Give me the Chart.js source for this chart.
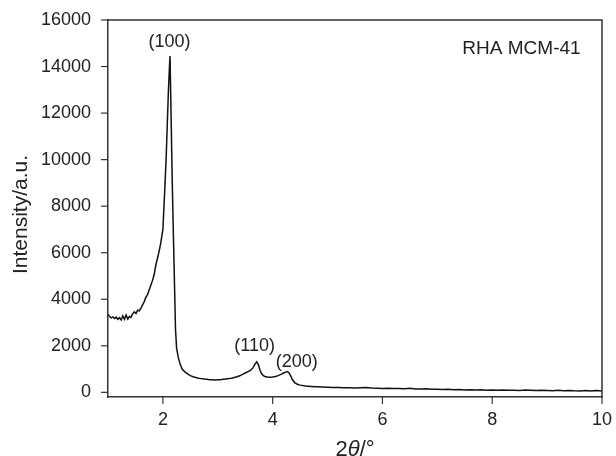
<!DOCTYPE html>
<html>
<head>
<meta charset="utf-8">
<script src="https://cdn.jsdelivr.net/npm/chart.js@4.4.0/dist/chart.umd.min.js"></script>
<style>
    html, body { margin: 0; padding: 0; background: #fff; }
</style>
</head>
<body>
<canvas id="xrdChart" width="616" height="456"></canvas>
<script>
// 2theta positions (degrees) and measured intensity (a.u.)
const twoTheta = [
    1.00, 1.03, 1.06, 1.09, 1.12, 1.15, 1.18, 1.21, 1.24, 1.27,
    1.30, 1.33, 1.36, 1.39, 1.42, 1.45, 1.48, 1.51, 1.54, 1.57,
    1.60, 1.63, 1.66, 1.69, 1.72, 1.75, 1.78, 1.81, 1.84, 1.87,
    1.90, 1.93, 1.96, 1.98, 2.00, 2.02, 2.04, 2.06, 2.08, 2.10,
    2.12, 2.13, 2.15, 2.17, 2.19, 2.21, 2.23, 2.25, 2.28, 2.31,
    2.35, 2.40, 2.45, 2.50, 2.55, 2.60, 2.65, 2.70, 2.75, 2.80,
    2.85, 2.90, 2.95, 3.00, 3.05, 3.10, 3.15, 3.20, 3.25, 3.30,
    3.35, 3.40, 3.45, 3.50, 3.55, 3.60, 3.64, 3.68, 3.71, 3.74,
    3.77, 3.80, 3.83, 3.86, 3.90, 3.95, 4.00, 4.05, 4.10, 4.15,
    4.20, 4.24, 4.27, 4.30, 4.33, 4.36, 4.40, 4.45, 4.50, 4.60,
    4.70, 4.80, 4.90, 5.00, 5.10, 5.20, 5.30, 5.40, 5.50, 5.60,
    5.70, 5.80, 5.90, 6.00, 6.10, 6.20, 6.30, 6.40, 6.50, 6.60,
    6.70, 6.80, 6.90, 7.00, 7.10, 7.20, 7.30, 7.40, 7.50, 7.60,
    7.70, 7.80, 7.90, 8.00, 8.10, 8.20, 8.30, 8.40, 8.50, 8.60,
    8.70, 8.80, 8.90, 9.00, 9.10, 9.20, 9.30, 9.40, 9.50, 9.60,
    9.70, 9.80, 9.90, 10.00
];
const intensity = [
    3350, 3260, 3200, 3240, 3170, 3230, 3140, 3210, 3110, 3290,
    3140, 3320, 3150, 3260, 3230, 3380, 3460, 3390, 3530, 3500,
    3620, 3760, 3900, 4080, 4200, 4400, 4600, 4800, 5050, 5450,
    5750, 6050, 6400, 6700, 7000, 8000, 9000, 10100, 11500, 12900,
    14000, 14450, 11800, 9100, 6900, 4800, 2700, 1900, 1500, 1250,
    1000, 880, 790, 720, 670, 640, 610, 590, 570, 560,
    545, 540, 530, 540, 545, 560, 575, 590, 610, 640,
    670, 710, 770, 830, 890, 950, 1050, 1220, 1310, 1180,
    950, 800, 720, 680, 660, 650, 660, 680, 720, 770,
    830, 870, 890, 830, 700, 540, 420, 350, 310, 275,
    255, 240, 228, 215, 205, 210, 195, 200, 190, 200,
    205, 182, 176, 170, 178, 160, 166, 150, 172, 146,
    140, 150, 130, 135, 120, 130, 112, 120, 105, 115,
    100, 110, 95, 100, 90, 104, 86, 95, 80, 98,
    85, 76, 94, 80, 70, 88, 66, 84, 70, 62,
    80, 56, 74, 60
];

// labelled (major) ticks; minor ticks fall halfway between
const xTickLabels = [2, 4, 6, 8, 10];
const yTickLabels = [0, 2000, 4000, 6000, 8000, 10000, 12000, 14000, 16000];

// reflection labels and where they sit (data units)
const peakLabels = ["(100)", "(110)", "(200)"];
const peakLabelX = [2.12, 3.67, 4.44];
const peakLabelY = [15060, 1990, 1300];
const sampleName = "RHA MCM-41";
const sampleNameAt = [9.61, 14760];
const yTitle = "Intensity/a.u.";

const FONT = "'Liberation Sans', Arial, Helvetica, sans-serif";
const INK = "#222";
const AXIS = "#333";

const points = twoTheta.map((t, i) => ({ x: t, y: intensity[i] }));

const frameAndText = {
    id: "frameAndText",
    afterDraw(chart) {
        const { ctx, chartArea: a, scales: { x, y } } = chart;
        ctx.save();

        // top and right frame
        ctx.strokeStyle = AXIS;
        ctx.lineWidth = 1.5;
        ctx.beginPath();
        ctx.moveTo(a.left, a.top);
        ctx.lineTo(a.right, a.top);
        ctx.lineTo(a.right, a.bottom);
        ctx.stroke();

        // outward ticks, major ones longer
        ctx.lineWidth = 1.2;
        x.ticks.forEach((t) => {
            const px = x.getPixelForValue(t.value);
            const len = xTickLabels.includes(t.value) ? 7 : 4;
            ctx.beginPath();
            ctx.moveTo(px, a.bottom);
            ctx.lineTo(px, a.bottom + len);
            ctx.stroke();
        });
        y.ticks.forEach((t) => {
            const py = y.getPixelForValue(t.value);
            const len = yTickLabels.includes(t.value) ? 7 : 4;
            ctx.beginPath();
            ctx.moveTo(a.left, py);
            ctx.lineTo(a.left - len, py);
            ctx.stroke();
        });

        // peak labels
        ctx.fillStyle = INK;
        ctx.font = "18px " + FONT;
        ctx.textAlign = "center";
        ctx.textBaseline = "middle";
        peakLabels.forEach((txt, i) => {
            ctx.fillText(txt, x.getPixelForValue(peakLabelX[i]), y.getPixelForValue(peakLabelY[i]));
        });

        ctx.font = "19px " + FONT;
        ctx.textAlign = "right";
        ctx.fillText(sampleName, x.getPixelForValue(sampleNameAt[0]), y.getPixelForValue(sampleNameAt[1]));

        // y axis title
        ctx.save();
        ctx.translate(21, (a.top + a.bottom) / 2 + 6);
        ctx.rotate(-Math.PI / 2);
        ctx.font = "21px " + FONT;
        ctx.textAlign = "center";
        ctx.textBaseline = "middle";
        ctx.fillText(yTitle, 0, 0);
        ctx.restore();

        // x axis title: 2θ/° with italic theta
        const parts = [["2", "22px " + FONT], ["\u03B8", "italic 22px " + FONT], ["/\u00B0", "22px " + FONT]];
        let total = 0;
        parts.forEach((p) => { ctx.font = p[1]; total += ctx.measureText(p[0]).width; });
        let cx = (a.left + a.right) / 2 - total / 2;
        const cy = a.bottom + 59;
        ctx.textAlign = "left";
        ctx.textBaseline = "alphabetic";
        parts.forEach((p) => {
            ctx.font = p[1];
            ctx.fillText(p[0], cx, cy);
            cx += ctx.measureText(p[0]).width;
        });

        ctx.restore();
    },
};

const ctx = document.getElementById("xrdChart");

new Chart(ctx, {
    type: "line",
    data: {
        datasets: [
            {
                label: sampleName,
                data: points,
                borderColor: "#111",
                borderWidth: 1.5,
                pointRadius: 0,
                tension: 0,
                fill: false,
            },
        ],
    },
    options: {
        responsive: false,
        animation: false,
        layout: { padding: { top: 20, right: 14, left: 0, bottom: 0 } },
        plugins: {
            legend: { display: false },
            tooltip: { enabled: false },
        },
        scales: {
            x: {
                type: "linear",
                min: 1,
                max: 10,
                grid: { display: false, drawTicks: false },
                border: { display: true, color: AXIS, width: 1.5 },
                ticks: {
                    stepSize: 1,
                    autoSkip: false,
                    maxRotation: 0,
                    padding: 12,
                    color: INK,
                    font: { family: FONT, size: 18 },
                    callback: (v) => (xTickLabels.includes(v) ? String(v) : null),
                },
                afterFit: (scale) => {
                    scale.height = 59;
                    scale.paddingLeft = 0;
                    scale.paddingRight = 0;
                },
            },
            y: {
                min: -200,
                max: 16000,
                grid: { display: false, drawTicks: false },
                border: { display: true, color: AXIS, width: 1.5 },
                ticks: {
                    autoSkip: false,
                    padding: 17,
                    color: INK,
                    font: { family: FONT, size: 18 },
                    callback: (v) => (yTickLabels.includes(v) ? String(v) : null),
                },
                afterBuildTicks: (scale) => {
                    const ticks = [];
                    for (let v = 0; v <= 16000; v += 1000) ticks.push({ value: v });
                    scale.ticks = ticks;
                },
                afterFit: (scale) => {
                    scale.width = 108;
                    scale.paddingTop = 0;
                    scale.paddingBottom = 0;
                },
            },
        },
    },
    plugins: [frameAndText],
});
</script>
</body>
</html>
